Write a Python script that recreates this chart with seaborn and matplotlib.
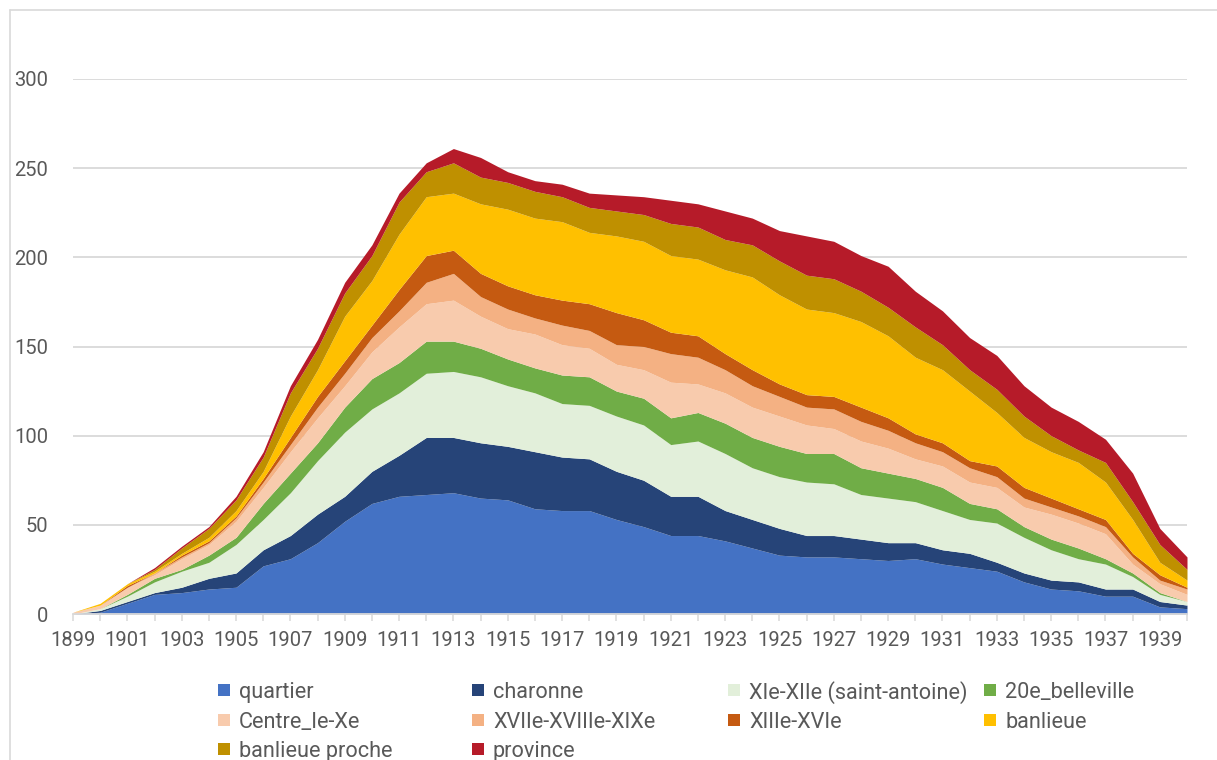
import matplotlib
matplotlib.use("Agg")
import matplotlib.pyplot as plt
from matplotlib.patches import Rectangle
from matplotlib.lines import Line2D
import seaborn as sns

# Yearly counts by place of origin, 1899-1940
years = list(range(1899, 1941))

quartier = [0, 1, 6, 11, 12, 14, 15, 27, 31, 40, 52, 62, 66, 67, 68, 65, 64, 59, 58, 58,
            53, 49, 44, 44, 41, 37, 33, 32, 32, 31, 30, 31, 28, 26, 24, 18, 14, 13, 10, 10, 4, 3]
charonne = [0, 1, 1, 1, 3, 6, 8, 9, 13, 16, 14, 18, 23, 32, 31, 31, 30, 32, 30, 29,
            27, 26, 22, 22, 17, 16, 15, 12, 12, 11, 10, 9, 8, 8, 5, 5, 5, 5, 4, 4, 3, 2]
saint_antoine = [0, 1, 3, 6, 9, 9, 16, 17, 24, 30, 36, 35, 35, 36, 37, 37, 34, 33, 30, 30,
                 31, 31, 29, 31, 32, 29, 29, 30, 29, 25, 25, 23, 22, 19, 22, 20, 17, 13, 14, 7, 4, 2]
belleville = [0, 0, 1, 2, 1, 4, 4, 9, 11, 10, 14, 17, 17, 18, 17, 16, 15, 14, 16, 16,
              14, 15, 15, 16, 17, 17, 17, 16, 17, 15, 14, 13, 13, 9, 8, 6, 6, 6, 3, 2, 1, 0]
centre = [1, 2, 4, 2, 6, 6, 9, 9, 12, 14, 12, 15, 20, 21, 23, 18, 17, 19, 17, 16,
          15, 16, 20, 16, 17, 17, 17, 16, 14, 15, 14, 11, 12, 12, 12, 11, 14, 14, 14, 5, 5, 4]
xvii_xix = [0, 0, 0, 1, 1, 1, 2, 3, 4, 6, 7, 8, 9, 12, 15, 11, 11, 9, 11, 10,
            11, 13, 16, 15, 13, 12, 11, 10, 11, 11, 10, 9, 8, 8, 6, 5, 4, 4, 4, 4, 2, 3]
xiii_xvi = [0, 0, 1, 0, 1, 1, 1, 2, 4, 6, 7, 7, 12, 15, 13, 13, 13, 13, 14, 15,
            18, 15, 12, 12, 9, 9, 7, 7, 7, 8, 7, 5, 5, 4, 6, 6, 5, 4, 4, 2, 3, 1]
banlieue = [0, 1, 1, 1, 1, 2, 3, 4, 12, 15, 25, 25, 31, 33, 32, 39, 43, 43, 44, 40,
            43, 44, 43, 43, 47, 52, 50, 48, 47, 48, 46, 43, 41, 39, 30, 28, 26, 26, 21, 19, 7, 4]
banlieue_proche = [0, 0, 0, 1, 3, 5, 6, 8, 13, 12, 13, 14, 18, 14, 17, 15, 15, 15, 14, 14,
                   14, 15, 18, 18, 17, 18, 19, 19, 19, 17, 16, 17, 14, 12, 13, 12, 9, 7, 11, 10, 10, 6]
province = [0, 0, 0, 1, 1, 1, 2, 3, 4, 5, 6, 6, 5, 5, 8, 11, 6, 6, 7, 8,
            9, 10, 13, 13, 16, 15, 17, 22, 21, 20, 23, 20, 19, 18, 19, 17, 16, 16, 13, 16, 9, 7]

series_names = ["quartier", "charonne", "XIe-XIIe (saint-antoine)", "20e_belleville",
                "Centre_Ie-Xe", "XVIIe-XVIIIe-XIXe", "XIIIe-XVIe", "banlieue",
                "banlieue proche", "province"]
series_values = [quartier, charonne, saint_antoine, belleville, centre, xvii_xix,
                 xiii_xvi, banlieue, banlieue_proche, province]
series_colors = ["#4472C4", "#264478", "#E2EFDA", "#70AD47", "#F8CBAD", "#F4B183",
                 "#C55A11", "#FFC000", "#BF9000", "#B61B29"]

y_ticks = [0, 50, 100, 150, 200, 250, 300]

sns.set_theme(style="white")
plt.rcParams["font.family"] = ["Roboto", "DejaVu Sans"]
text_color = "#595959"
grid_color = "#D9D9D9"
palette = sns.color_palette(series_colors)

W, H = 1217, 760
fig = plt.figure(figsize=(W / 100, H / 100), dpi=100)
ax = fig.add_axes([73 / W, 1 - 614 / H, (1187 - 73) / W, (614 - 79) / H])

ax.stackplot(years, *series_values, colors=palette, labels=series_names,
             linewidth=0, zorder=2)

ax.set_xlim(years[0], years[-1])
ax.set_ylim(0, 300)
ax.set_yticks(y_ticks)
ax.set_yticklabels([str(v) for v in y_ticks])
ax.yaxis.grid(True, color=grid_color, linewidth=1.3, zorder=0)
ax.xaxis.grid(False)
ax.set_axisbelow(True)

ax.set_xticks(years)
ax.set_xticklabels([str(y) if (y - years[0]) % 2 == 0 else "" for y in years])

for side in ("top", "right", "left"):
    ax.spines[side].set_visible(False)
ax.spines["bottom"].set_color(grid_color)
ax.spines["bottom"].set_linewidth(1.3)
ax.spines["bottom"].set_zorder(3)

ax.tick_params(axis="x", which="major", direction="out", length=5, width=1.1,
               color=grid_color, pad=7, labelsize=14.5, labelcolor=text_color, bottom=True)
ax.tick_params(axis="y", length=0, pad=18, labelsize=14.5, labelcolor=text_color)

# Legend: 4 equal-width columns filled row by row
col_x = [218, 472, 728, 984]
row_y = [690, 719.5, 749]
box = 12
for i, (name, color) in enumerate(zip(series_names, palette)):
    r, c = divmod(i, 4)
    x, y = col_x[c], row_y[r]
    fig.add_artist(Rectangle((x / W, 1 - (y + box / 2) / H), box / W, box / H,
                             transform=fig.transFigure, facecolor=color,
                             edgecolor="none"))
    fig.text((x + box + 9) / W, 1 - y / H, name, fontsize=15.6, color=text_color,
             ha="left", va="center_baseline")

# Chart area border
fig.add_artist(Line2D([10 / W, 10 / W], [0, 1 - 10 / H], transform=fig.transFigure,
                      color=grid_color, linewidth=1.2))
fig.add_artist(Line2D([10 / W, 1], [1 - 10 / H, 1 - 10 / H], transform=fig.transFigure,
                      color=grid_color, linewidth=1.2))

fig.savefig("out.png", dpi=100)
